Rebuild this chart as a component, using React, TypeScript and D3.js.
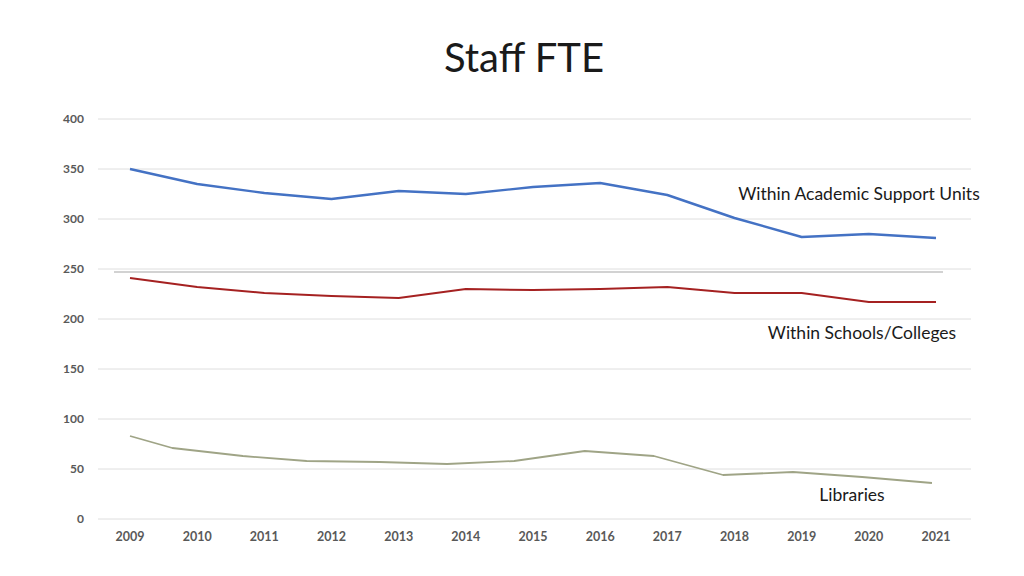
import React, { useRef, useEffect } from "react";
import * as d3 from "d3";

// values
const years = [2009, 2010, 2011, 2012, 2013, 2014, 2015, 2016, 2017, 2018, 2019, 2020, 2021];
const academicSupport = [350, 335, 326, 320, 328, 325, 332, 336, 324, 301, 282, 285, 281];
const schoolsColleges = [241, 232, 226, 223, 221, 230, 229, 230, 232, 226, 226, 217, 217];
// the libraries series is drawn slightly off the year grid in the original
const librariesX = [2009, 2009.63, 2010.68, 2011.63, 2012.72, 2013.72, 2014.72, 2015.77, 2016.8, 2017.83, 2018.87, 2019.9, 2020.94];
const libraries = [83, 71, 63, 58, 57, 55, 58, 68, 63, 44, 47, 42, 36];
const yTicks = [0, 50, 100, 150, 200, 250, 300, 350, 400];
const referenceLine = 247;

const W = 1024;
const H = 576;
const font = "Lato, 'Open Sans', sans-serif";

export default function App() {
  const ref = useRef<SVGSVGElement>(null);

  useEffect(() => {
    const svg = d3.select(ref.current);
    svg.selectAll("*").remove();

    const x = d3.scaleLinear().domain([2009, 2021]).range([130, 936]);
    const y = d3.scaleLinear().domain([0, 400]).range([519, 119]);

    svg
      .append("text")
      .attr("x", 524)
      .attr("y", 72)
      .attr("text-anchor", "middle")
      .style("font-family", font)
      .style("font-size", "40px")
      .attr("fill", "#1a1a1a")
      .text("Staff FTE");

    // gridlines
    svg
      .append("g")
      .selectAll("line")
      .data(yTicks)
      .join("line")
      .attr("x1", 98)
      .attr("x2", 971)
      .attr("y1", (d) => y(d))
      .attr("y2", (d) => y(d))
      .attr("stroke", "#dedede")
      .attr("stroke-width", 1);

    svg
      .append("g")
      .selectAll("text")
      .data(yTicks)
      .join("text")
      .attr("x", 84)
      .attr("y", (d) => y(d) + 4)
      .attr("text-anchor", "end")
      .style("font-family", font)
      .style("font-size", "12px")
      .style("font-weight", "bold")
      .attr("fill", "#595959")
      .text((d) => d);

    svg
      .append("g")
      .selectAll("text")
      .data(years)
      .join("text")
      .attr("x", (d) => x(d))
      .attr("y", 541)
      .attr("text-anchor", "middle")
      .style("font-family", font)
      .style("font-size", "12.5px")
      .style("font-weight", "bold")
      .attr("fill", "#595959")
      .text((d) => d);

    svg
      .append("line")
      .attr("x1", 114)
      .attr("x2", 943)
      .attr("y1", y(referenceLine))
      .attr("y2", y(referenceLine))
      .attr("stroke", "#a6a6a6")
      .attr("stroke-width", 1.2);

    const line = d3
      .line<[number, number]>()
      .x((d) => x(d[0]))
      .y((d) => y(d[1]));

    const series = [
      { xs: years, ys: academicSupport, color: "#4472c4", width: 2.4 },
      { xs: years, ys: schoolsColleges, color: "#a52121", width: 2 },
      { xs: librariesX, ys: libraries, color: "#9fa486", width: 1.8 },
    ];

    series.forEach((s) => {
      svg
        .append("path")
        .datum(s.xs.map((v, i) => [v, s.ys[i]] as [number, number]))
        .attr("d", line)
        .attr("fill", "none")
        .attr("stroke", s.color)
        .attr("stroke-width", s.width)
        .attr("stroke-linejoin", "round");
    });

    const labels = [
      { text: "Within Academic Support Units", x: 859, y: 200 },
      { text: "Within Schools/Colleges", x: 862, y: 339 },
      { text: "Libraries", x: 852, y: 501 },
    ];
    svg
      .append("g")
      .selectAll("text")
      .data(labels)
      .join("text")
      .attr("x", (d) => d.x)
      .attr("y", (d) => d.y)
      .attr("text-anchor", "middle")
      .style("font-family", font)
      .style("font-size", "17.5px")
      .attr("fill", "#1a1a1a")
      .text((d) => d.text);
  }, []);

  return (
    <svg
      ref={ref}
      width={W}
      height={H}
      style={{ position: "absolute", left: 0, top: 0, background: "#fff" }}
    />
  );
}
